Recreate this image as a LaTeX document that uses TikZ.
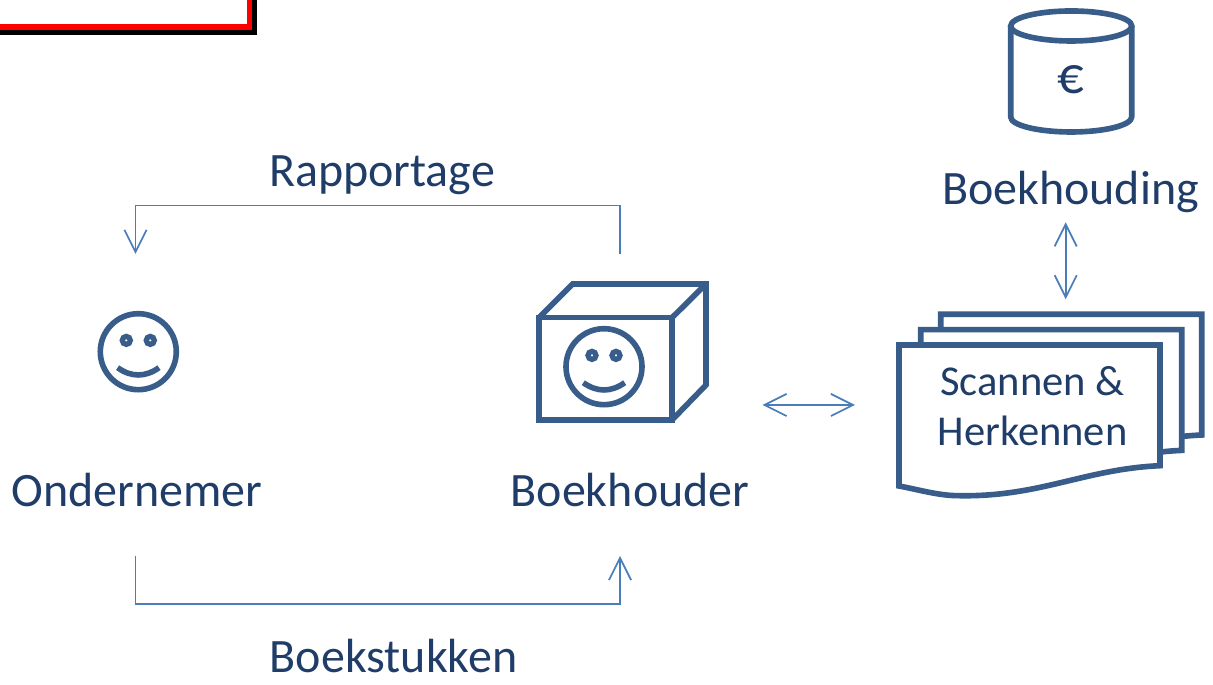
\documentclass[tikz,border=0pt]{standalone}
\usepackage{fontspec}
\setmainfont{Carlito}
\usetikzlibrary{arrows.meta}
\definecolor{shapeblue}{HTML}{385D8A}
\definecolor{linkblue}{HTML}{4A7EBB}
\definecolor{textblue}{HTML}{1F3D68}
\tikzset{
  shapeline/.style={draw=shapeblue, line width=1.6pt, miter limit=10},
  linkline/.style={draw=linkblue, line width=0.5pt, arrows={Straight Barb[length=6.3pt,width=6.3pt]-Straight Barb[length=6.3pt,width=6.3pt]}},
  linkto/.style={draw=linkblue, line width=0.5pt, arrows={-Straight Barb[length=6.3pt,width=6.3pt]}},
  bigtext/.style={text=textblue, inner sep=0pt, anchor=base, font=\fontsize{13.65}{16}\selectfont},
  smalltext/.style={text=textblue, inner sep=0pt, align=center, font=\fontsize{12.1}{14.2}\selectfont}
}

\begin{document}
\begin{tikzpicture}
\useasboundingbox (0,0) rectangle (12.13,6.85);
% Cut-off frame in the corner
\draw[black, line width=1.45pt] (0,6.525) -- (2.545,6.525) -- (2.545,6.85);
\draw[red, line width=1.7pt] (0,6.58) -- (2.495,6.58) -- (2.495,6.85);
% Cylinder
\draw[shapeline, line join=round] (10.107,6.59) -- (10.107,5.68) arc (180:360:0.605 and 0.15) -- (11.317,6.59);
\draw[shapeline] (10.712,6.59) ellipse (0.605 and 0.15);
% Box round the second face
\draw[shapeline] (5.39,2.65) rectangle (6.72,3.673);
\draw[shapeline] (5.39,3.673) -- (5.727,4.01) -- (7.06,4.01) -- (7.06,3.00) -- (6.72,2.65);
\draw[shapeline] (6.72,3.673) -- (7.06,4.01);
% Faces
\foreach \cx/\cy in {1.383/3.333, 6.04/3.183} {
    \draw[shapeline] (\cx,\cy) circle (0.38);
    \foreach \ex in {-0.12,0.12}
        \draw[shapeblue, line width=1.5pt] (\cx+\ex,\cy+0.113) circle (0.04);
    \draw[shapeline] (\cx-0.207,\cy-0.16) .. controls (\cx-0.07,\cy-0.257) and (\cx+0.07,\cy-0.257) .. (\cx+0.207,\cy-0.16);
}
% Three sheets, back one first
\foreach \dx/\dy in {0.417/0.307, 0.217/0.153, 0/0}
    \draw[shapeline, fill=white, shift={(\dx,\dy)}] (8.99,3.40) -- (11.60,3.40) -- (11.60,2.193)
        .. controls (10.85,2.16) and (10.4,1.88) .. (9.6,1.893)
        .. controls (9.4,1.89) and (9.2,1.95) .. (8.99,1.99) -- cycle;
% Labels
\node[bigtext] (rapportage) at (3.82,4.985) {Rapportage};
\node[bigtext] (ondernemer) at (1.37,1.785) {Ondernemer};
\node[bigtext] (boekhouder) at (6.30,1.785) {Boekhouder};
\node[bigtext] (boekstukken) at (3.935,0.125) {Boekstukken};
\node[bigtext] (boekhouding) at (10.705,4.805) {Boekhouding};
\node[smalltext] (scannen) at (10.325,2.79) {Scannen \&\\Herkennen};
\node[smalltext, font=\fontsize{15}{16}\selectfont] (euro) at (10.71,6.05) {€};
% Free ends of the connectors
\coordinate (rapStart) at (6.20,4.31);
\coordinate (rapEnd) at (1.355,4.31);
\coordinate (stukStart) at (1.355,1.29);
\coordinate (stukEnd) at (6.20,1.29);
\coordinate (scanLeft) at (7.625,2.80);
\coordinate (scanRight) at (8.55,2.80);
\coordinate (boekTop) at (10.657,4.627);
\coordinate (boekBottom) at (10.657,3.857);
% Connectors
\draw[linkto] (rapStart) -- ++(0,0.485) -| (rapEnd);
\draw[linkto] (stukStart) -- ++(0,-0.48) -| (stukEnd);
\draw[linkline] (scanLeft) -- (scanRight);
\draw[linkline] (boekTop) -- (boekBottom);
\end{tikzpicture}
\end{document}
